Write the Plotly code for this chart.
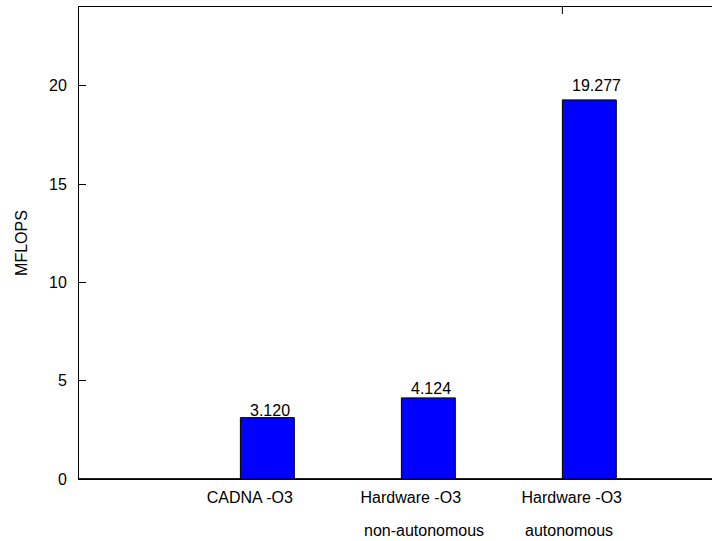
import plotly.graph_objects as go

# Benchmark results (MFLOPS)
categories = ["CADNA -O3", "Hardware -O3", "Hardware -O3"]
subtitles = ["", "non-autonomous", "autonomous"]
mflops = [3.120, 4.124, 19.277]
value_labels = ["3.120", "4.124", "19.277"]
y_ticks = [0, 5, 10, 15, 20]

FONT = "Liberation Sans, Arial, sans-serif"
BAR_WIDTH = 0.335
TICK_OFFSET = 0.109          # category label sits slightly left of its bar
LABEL_YSHIFT = [-3, -1, 4]   # pixel nudges of the value labels

positions = [i + 1 for i in range(len(mflops))]
tick_positions = [p - TICK_OFFSET for p in positions]

fig = go.Figure()
fig.add_trace(go.Bar(
    x=positions,
    y=mflops,
    width=BAR_WIDTH,
    marker=dict(color="#0000ff", line=dict(color="black", width=1)),
    showlegend=False,
    hoverinfo="skip",
))

annotations = []
for p, v, txt, dy in zip(positions, mflops, value_labels, LABEL_YSHIFT):
    annotations.append(dict(
        x=p, y=v, xref="x", yref="y", text=txt, showarrow=False,
        xanchor="left", yanchor="bottom", xshift=-19, yshift=dy,
        font=dict(family=FONT, size=16, color="black"),
    ))
for tp, sub in zip(tick_positions, subtitles):
    if sub:
        annotations.append(dict(
            x=tp, y=0, xref="x", yref="y", text=sub, showarrow=False,
            xanchor="left", yanchor="top", xshift=-49, yshift=-41,
            font=dict(family=FONT, size=16, color="black"),
        ))

# single tick mark hanging from the top border
top_tick_x = positions[2] - BAR_WIDTH / 2
shapes = [dict(type="line", xref="x", yref="paper",
               x0=top_tick_x, x1=top_tick_x, y0=1, y1=1 - 7 / 472,
               line=dict(color="black", width=1))]

fig.update_layout(
    width=712, height=541,
    margin=dict(l=79, r=0, t=7, b=62),
    paper_bgcolor="white", plot_bgcolor="white",
    font=dict(family=FONT, size=16, color="black"),
    annotations=annotations,
    shapes=shapes,
    xaxis=dict(
        range=[-0.17, 3.762],
        tickvals=tick_positions, ticktext=categories,
        showgrid=False, zeroline=False,
        showline=True, linecolor="black", linewidth=1, mirror=True,
        ticks="", ticklabelstandoff=4,
        tickfont=dict(family=FONT, size=16, color="black"),
    ),
    yaxis=dict(
        range=[0, 24],
        tickvals=y_ticks,
        showgrid=False,
        zeroline=True, zerolinecolor="#222222", zerolinewidth=2,
        showline=True, linecolor="black", linewidth=1, mirror=False,
        ticks="inside", ticklen=7, tickcolor="black", tickwidth=1,
        ticklabelstandoff=8,
        tickfont=dict(family=FONT, size=16, color="black"),
        title=dict(text="MFLOPS", standoff=17,
                   font=dict(family=FONT, size=16, color="black")),
    ),
)

fig.write_html("out.html")
